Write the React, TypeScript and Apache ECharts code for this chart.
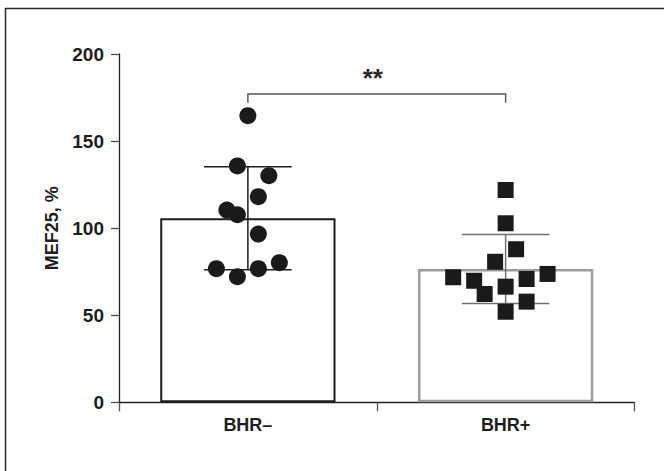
import React, { useEffect, useRef } from "react";
import * as echarts from "echarts";

const categories = ["BHR–", "BHR+"];
const yTicks = [0, 50, 100, 150, 200];
const barMeans = [105.7, 76.6];
const barSD = [29.6, 19.8];
const bhrMinusValues = [164.6, 135.7, 130.1, 118.1, 110.4, 107.7, 96.6, 76.7, 72.1, 76.7, 80.2];
const bhrMinusJitter = [0, -1, 2, 1, -2, -1, 1, -3, -1, 1, 3];
const bhrPlusValues = [121.9, 102.8, 87.9, 80.7, 71.8, 69.8, 62.2, 66.4, 70.8, 73.7, 57.8, 52.0];
const bhrPlusJitter = [0, 0, 1, -1, -5, -3, -2, 0, 2, 4, 2, 0];
const significance = "**";
const bracketLow = 172;
const bracketHigh = 177;
const starsValue = 186;
const yName = "MEF25, %";

const JITTER_STEP = 0.0407;
const FONT = "'Liberation Sans', Arial, Helvetica, sans-serif";

export default function App() {
  const ref = useRef<HTMLDivElement>(null);
  useEffect(() => {
    document.body.style.margin = "0";
    const chart = echarts.init(ref.current!, null, { renderer: "svg" });

    const minusPts = bhrMinusValues.map((v, i) => [0.5 + bhrMinusJitter[i] * JITTER_STEP, v]);
    const plusPts = bhrPlusValues.map((v, i) => [1.5 + bhrPlusJitter[i] * JITTER_STEP, v]);
    const errData = barMeans.map((m, i) => [i + 0.5, m, barSD[i]]);
    const errColors = ["#1e1e1e", "#707070"];

    chart.setOption({
      animation: false,
      backgroundColor: "#ffffff",
      graphic: [
        {
          type: "rect",
          shape: { x: 5.5, y: 8.5, width: 720, height: 520 },
          style: { fill: "none", stroke: "#2a2a2a", lineWidth: 1.5 },
          silent: true,
          z: -10,
        },
      ],
      grid: { left: 119, right: 29.5, top: 54, bottom: 68.7, containLabel: false },
      xAxis: [
        {
          type: "category",
          data: categories,
          axisLine: { show: true, lineStyle: { color: "#222", width: 1.3 } },
          axisTick: { show: true, alignWithLabel: false, length: 9, lineStyle: { color: "#555", width: 1.3 } },
          axisLabel: {
            fontFamily: FONT,
            fontWeight: "bold",
            fontSize: 18,
            color: "#1e1e1e",
            margin: 14,
          },
          splitLine: { show: false },
        },
        {
          type: "value",
          min: 0,
          max: 2,
          show: false,
        },
      ],
      yAxis: {
        type: "value",
        min: yTicks[0],
        max: yTicks[yTicks.length - 1],
        interval: yTicks[1] - yTicks[0],
        name: yName,
        nameLocation: "middle",
        nameGap: 56,
        nameRotate: 90,
        nameTextStyle: { fontFamily: FONT, fontWeight: "bold", fontSize: 18, color: "#1e1e1e" },
        axisLine: { show: true, lineStyle: { color: "#222", width: 1.3 } },
        axisTick: { show: true, length: 8, lineStyle: { color: "#444", width: 1.2 } },
        axisLabel: { fontFamily: FONT, fontWeight: "bold", fontSize: 19, color: "#1e1e1e", margin: 15 },
        splitLine: { show: false },
      },
      series: [
        {
          type: "bar",
          xAxisIndex: 0,
          barWidth: "68%",
          z: 1,
          data: barMeans.map((m, i) => ({
            value: m,
            itemStyle: {
              color: "#ffffff",
              borderColor: i === 0 ? "#1e1e1e" : "#9c9c9c",
              borderWidth: i === 0 ? 2 : 2.5,
            },
          })),
        },
        {
          type: "custom",
          xAxisIndex: 1,
          z: 2,
          data: errData,
          renderItem: (params: any, api: any) => {
            const x = api.value(0);
            const m = api.value(1);
            const sd = api.value(2);
            const top = api.coord([x, m + sd]);
            const bot = api.coord([x, m - sd]);
            const half = api.size([0.34, 0])[0] / 2;
            const color = errColors[params.dataIndex];
            const style = { stroke: color, lineWidth: 1.5 };
            return {
              type: "group",
              children: [
                { type: "line", shape: { x1: top[0], y1: top[1], x2: bot[0], y2: bot[1] }, style },
                { type: "line", shape: { x1: top[0] - half, y1: top[1], x2: top[0] + half, y2: top[1] }, style },
                { type: "line", shape: { x1: bot[0] - half, y1: bot[1], x2: bot[0] + half, y2: bot[1] }, style },
              ],
            };
          },
        },
        {
          type: "custom",
          xAxisIndex: 1,
          z: 2,
          data: [[0.5, 1.5, bracketLow, bracketHigh, starsValue]],
          renderItem: (params: any, api: any) => {
            const a = api.coord([api.value(0), api.value(2)]);
            const aTop = api.coord([api.value(0), api.value(3)]);
            const b = api.coord([api.value(1), api.value(2)]);
            const s = api.coord([(api.value(0) + api.value(1)) / 2, api.value(4)]);
            return {
              type: "group",
              children: [
                {
                  type: "polyline",
                  shape: { points: [[a[0], a[1]], [aTop[0], aTop[1]], [b[0], aTop[1]], [b[0], b[1]]] },
                  style: { stroke: "#555", lineWidth: 1.4, fill: "none" },
                },
                {
                  type: "text",
                  x: s[0] - 4,
                  y: s[1],
                  style: {
                    text: significance,
                    fontFamily: FONT,
                    fontWeight: "bold",
                    fontSize: 26,
                    fill: "#2a2a2a",
                    align: "center",
                    verticalAlign: "middle",
                  },
                },
              ],
            };
          },
        },
        {
          type: "scatter",
          xAxisIndex: 1,
          z: 3,
          symbol: "circle",
          symbolSize: 17,
          itemStyle: { color: "#1a1a1a", opacity: 1 },
          data: minusPts,
        },
        {
          type: "scatter",
          xAxisIndex: 1,
          z: 3,
          symbol: "rect",
          symbolSize: 16,
          itemStyle: { color: "#1a1a1a", opacity: 1 },
          data: plusPts,
        },
      ],
    });
    return () => chart.dispose();
  }, []);
  return <div ref={ref} style={{ width: 664, height: 471 }} />;
}
